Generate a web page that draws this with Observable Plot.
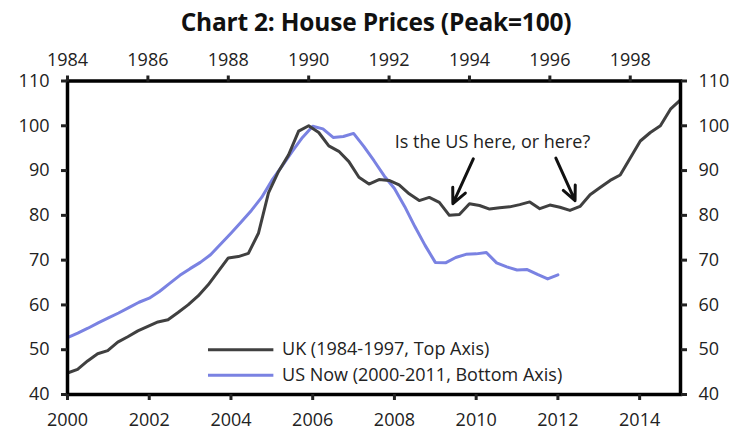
<!DOCTYPE html>
<html><head><meta charset="utf-8">
<script src="https://cdn.jsdelivr.net/npm/d3@7"></script>
<script src="https://cdn.jsdelivr.net/npm/@observablehq/plot@0.6"></script>
<style>
body{margin:0;background:#fff;}
#title{height:40px;text-align:center;font-family:"Open Sans",sans-serif;font-weight:700;font-size:24.5px;line-height:44px;color:#111;padding-left:16px;letter-spacing:-0.2px;}
#chart svg{display:block;}
</style></head><body>
<div id="title">Chart 2: House Prices (Peak=100)</div>
<div id="chart"></div>
<script>
// UK house prices, quarterly from 1984 Q1 (top axis)
const ukStartYear = 1984;
const ukValues = [44.8,45.6,47.5,49.1,49.8,51.7,52.9,54.2,55.2,56.2,56.7,58.3,60.0,62.0,64.5,67.5,
  70.5,70.8,71.5,76.0,85.0,89.8,93.5,98.8,100.0,98.5,95.5,94.3,92.0,88.5,87.0,88.0,
  87.8,86.8,84.8,83.3,84.0,82.9,80.0,80.2,82.6,82.2,81.4,81.7,81.9,82.4,83.0,81.5,
  82.3,81.8,81.1,82.0,84.6,86.2,87.8,89.0,92.8,96.6,98.5,100.0,103.7,105.8];
// US house prices, quarterly from 2000 Q1 (bottom axis)
const usStartYear = 2000;
const usValues = [52.7,53.7,54.8,56.0,57.1,58.2,59.4,60.6,61.5,63.0,64.8,66.6,68.1,69.5,71.2,73.6,
  76.0,78.5,81.1,84.0,87.8,91.0,94.3,97.4,99.9,99.3,97.4,97.6,98.3,95.4,92.2,88.8,
  86.0,82.0,77.5,73.3,69.5,69.4,70.6,71.3,71.4,71.7,69.4,68.5,67.8,67.9,66.8,65.8,66.7];

const topTicks = [1984,1986,1988,1990,1992,1994,1996,1998];
const bottomTicks = [2000,2002,2004,2006,2008,2010,2012,2014];
const yTicks = [40,50,60,70,80,90,100,110];
const topDomain = [1984, 1999.25];
const bottomDomain = [2000, 2015];
const yDomain = [40, 110];

const ukColor = "#404040";
const usColor = "#7a82e2";
const seriesLabels = ["UK (1984-1997, Top Axis)", "US Now (2000-2011, Bottom Axis)"];
const legendValues = [50, 44.3];
const legendX = [2003.45, 2005.05, 2005.25];

const noteText = "Is the US here, or here?";
const notePos = [2010.4, 96.4];
const arrows = [
  {x1: 2009.93, y1: 92.6, x2: 2009.43, y2: 82.6},
  {x1: 2011.95, y1: 92.8, x2: 2012.42, y2: 83.3}
];

const font = "Open Sans";
const toBottom = u => bottomDomain[0] + (u - topDomain[0]) * (bottomDomain[1] - bottomDomain[0]) / (topDomain[1] - topDomain[0]);
const fromBottom = b => topDomain[0] + (b - bottomDomain[0]) * (topDomain[1] - topDomain[0]) / (bottomDomain[1] - bottomDomain[0]);

const uk = ukValues.map((v, i) => ({x: toBottom(ukStartYear + i / 4), y: v}));
const us = usValues.map((v, i) => ({x: usStartYear + i / 4, y: v}));
const legend = seriesLabels.map((label, i) => ({label, y: legendValues[i], color: [ukColor, usColor][i]}));

const axisStyle = {fontFamily: font, fontSize: 18, tickSize: 6, strokeWidth: 3, color: "#222"};

const chart = Plot.plot({
  width: 736, height: 400,
  marginTop: 40.5, marginBottom: 46, marginLeft: 67, marginRight: 56,
  style: {fontFamily: font, fontSize: "18px", color: "#222", background: "#fff"},
  x: {domain: bottomDomain},
  y: {domain: yDomain},
  marks: [
    Plot.line(us, {x: "x", y: "y", stroke: usColor, strokeWidth: 3}),
    Plot.line(uk, {x: "x", y: "y", stroke: ukColor, strokeWidth: 3}),
    Plot.ruleY(legend, {y: "y", x1: legendX[0], x2: legendX[1], stroke: "color", strokeWidth: 3}),
    Plot.text(legend, {x: legendX[2], y: "y", text: "label", textAnchor: "start", fontSize: 18, fontFamily: font, fill: "#222"}),
    Plot.text([noteText], {x: notePos[0], y: notePos[1], text: d => d, fontSize: 18, fontFamily: font, fill: "#222"}),
    Plot.arrow(arrows, {x1: "x1", y1: "y1", x2: "x2", y2: "y2", stroke: "#111", strokeWidth: 3, headLength: 11, headAngle: 50}),
    Plot.frame({stroke: "#000", strokeWidth: 3.5}),
    Plot.axisX({anchor: "bottom", ticks: bottomTicks, tickFormat: d => String(d), tickPadding: 13, ...axisStyle}),
    Plot.axisX({anchor: "top", ticks: topTicks.map(toBottom), tickFormat: d => String(Math.round(fromBottom(d))), tickPadding: 9, label: null, ...axisStyle}),
    Plot.axisY({anchor: "left", ticks: yTicks, tickPadding: 12, label: null, ...axisStyle}),
    Plot.axisY({anchor: "right", ticks: yTicks, tickPadding: 12, label: null, ...axisStyle})
  ]
});
document.getElementById("chart").appendChild(chart);
</script>
</body></html>
